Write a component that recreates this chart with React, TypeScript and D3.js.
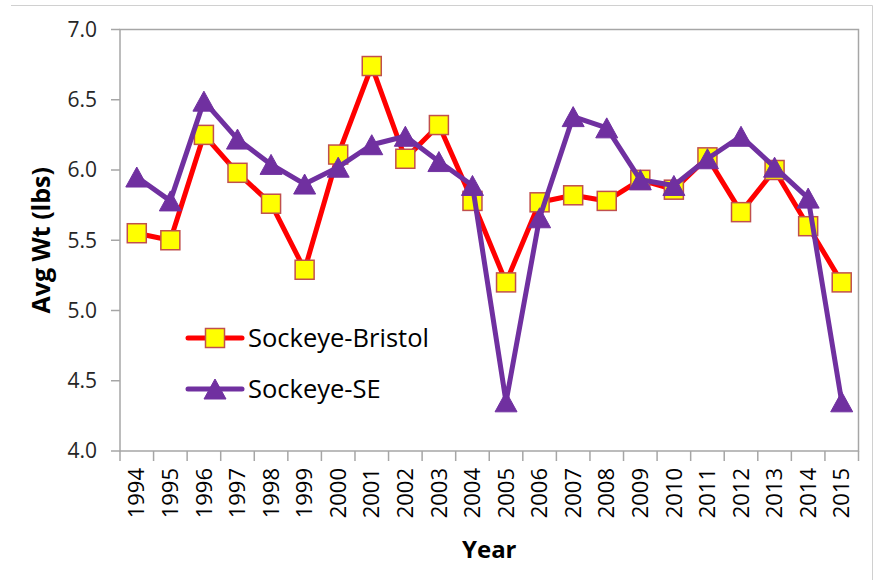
import React from "react";
import * as d3 from "d3";

const years = ["1994","1995","1996","1997","1998","1999","2000","2001","2002","2003","2004","2005","2006","2007","2008","2009","2010","2011","2012","2013","2014","2015"];
const bristol = [5.55,5.50,6.25,5.98,5.76,5.29,6.11,6.74,6.08,6.32,5.78,5.20,5.77,5.82,5.78,5.93,5.86,6.09,5.70,6.00,5.60,5.20];
const southeast = [5.95,5.78,6.49,6.22,6.04,5.90,6.02,6.18,6.24,6.06,5.89,4.35,5.66,6.38,6.30,5.93,5.89,6.08,6.24,6.02,5.80,4.35];
const yTicks = [4.0,4.5,5.0,5.5,6.0,6.5,7.0];
const seriesNames = ["Sockeye-Bristol","Sockeye-SE"];

const W = 875, H = 580;
const L = 120, R = 858.5, T = 29.5, B = 451;
const FONT = "'Open Sans', 'DejaVu Sans', sans-serif";
const RED = "#FF0000", PURPLE = "#7030A0", SQ_STROKE = "#C0504D", YELLOW = "#FFFF00";

export default function App() {
  const x = d3.scaleBand<string>().domain(years).range([L, R]).padding(0);
  const y = d3.scaleLinear().domain([4, 7]).range([B, T]);
  const cx = (yr: string) => (x(yr) as number) + x.bandwidth() / 2;
  const line = d3.line<number>().x((_, i) => cx(years[i])).y((v) => y(v));

  const sq = 19;
  const tri = (px: number, py: number, w = 22, h = 20) =>
    `M${px},${py - h / 2}L${px + w / 2},${py + h / 2}L${px - w / 2},${py + h / 2}Z`;

  const boundaries = years.map((yr) => x(yr) as number).concat([R]);

  return (
    <svg width={W} height={H} style={{ position: "absolute", left: 0, top: 0, background: "#fff" }}>
      {/* outer frame */}
      <line x1={11} x2={872.5} y1={5.5} y2={5.5} stroke="#D0D0D0" strokeWidth={1} />
      <line x1={872.5} x2={872.5} y1={5.5} y2={H} stroke="#D0D0D0" strokeWidth={1} />

      {/* plot border */}
      <rect x={L} y={T} width={R - L} height={B - T} fill="none" stroke="#A6A6A6" strokeWidth={1.5} />

      {/* y ticks */}
      {yTicks.map((t) => (
        <g key={t}>
          <line x1={L - 9} x2={L} y1={y(t)} y2={y(t)} stroke="#A6A6A6" strokeWidth={1.5} />
          <text x={97} y={y(t)} dy="0.35em" textAnchor="end" fontFamily={FONT} fontSize={21} fill="#262626">
            {t.toFixed(1)}
          </text>
        </g>
      ))}

      {/* x ticks */}
      {boundaries.map((b, i) => (
        <line key={i} x1={b} x2={b} y1={B} y2={B + 10} stroke="#A6A6A6" strokeWidth={1.5} />
      ))}
      {years.map((yr) => (
        <text
          key={yr}
          transform={`translate(${cx(yr)},${468}) rotate(-90)`}
          dy="0.35em"
          textAnchor="end"
          fontFamily={FONT}
          fontSize={22}
          fill="#000"
        >
          {yr}
        </text>
      ))}

      {/* axis titles */}
      <text
        transform={`translate(${41},${(T + B) / 2}) rotate(-90)`}
        dy="0.35em"
        textAnchor="middle"
        fontFamily={FONT}
        fontWeight="bold"
        fontSize={25}
        fill="#000"
      >
        Avg Wt (lbs)
      </text>
      <text x={(L + R) / 2} y={558} textAnchor="middle" fontFamily={FONT} fontWeight="bold" fontSize={24} fill="#000">
        Year
      </text>

      {/* Bristol series */}
      <path d={line(bristol) || ""} fill="none" stroke={RED} strokeWidth={5} strokeLinejoin="round" />
      {bristol.map((v, i) => (
        <rect key={i} x={cx(years[i]) - sq / 2} y={y(v) - sq / 2} width={sq} height={sq} fill={YELLOW} stroke={SQ_STROKE} strokeWidth={1.5} />
      ))}

      {/* SE series */}
      <path d={line(southeast) || ""} fill="none" stroke={PURPLE} strokeWidth={5} strokeLinejoin="round" />
      {southeast.map((v, i) => (
        <path key={i} d={tri(cx(years[i]), y(v))} fill={PURPLE} stroke={PURPLE} strokeWidth={1} />
      ))}

      {/* legend */}
      <g>
        <line x1={188} x2={242} y1={338} y2={338} stroke={RED} strokeWidth={5} strokeLinecap="round" />
        <rect x={215 - sq / 2} y={338 - sq / 2} width={sq} height={sq} fill={YELLOW} stroke={SQ_STROKE} strokeWidth={1.5} />
        <text x={248} y={338} dy="0.35em" fontFamily={FONT} fontSize={25.5} fill="#000">{seriesNames[0]}</text>
        <line x1={188} x2={242} y1={389} y2={389} stroke={PURPLE} strokeWidth={5} strokeLinecap="round" />
        <path d={tri(215, 389)} fill={PURPLE} stroke={PURPLE} strokeWidth={1} />
        <text x={248} y={389} dy="0.35em" fontFamily={FONT} fontSize={25.5} fill="#000">{seriesNames[1]}</text>
      </g>
    </svg>
  );
}
